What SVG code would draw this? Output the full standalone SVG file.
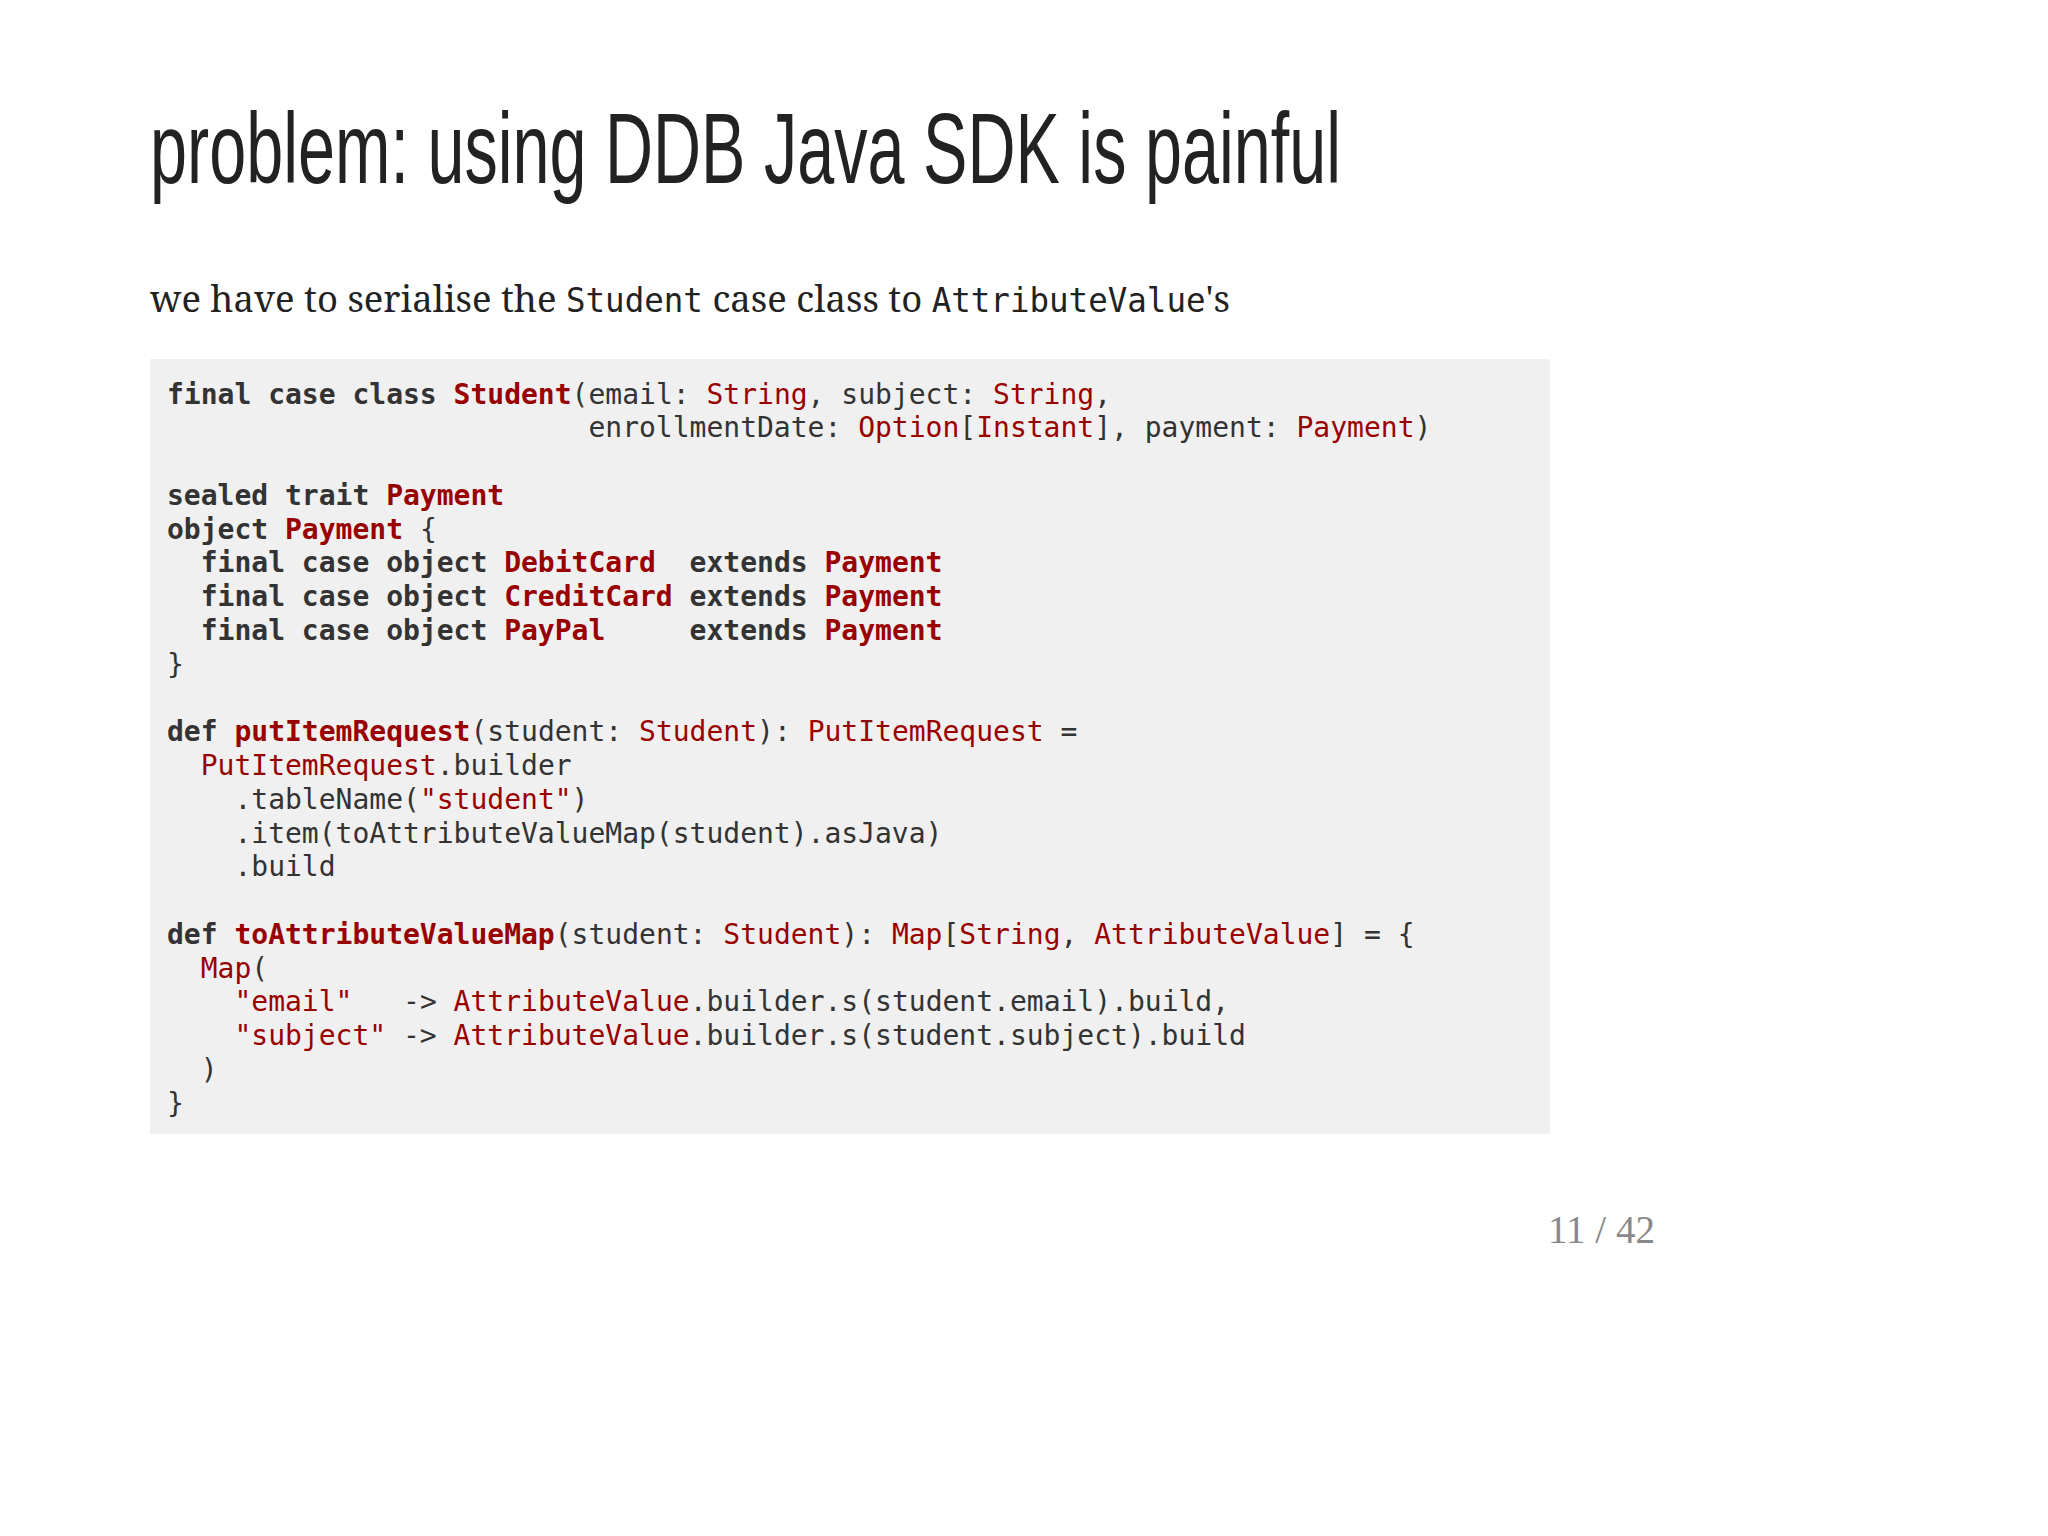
<svg xmlns="http://www.w3.org/2000/svg" width="2048" height="1536" viewBox="0 0 2048 1536">
<style>
.c text{font-family:"DejaVu Sans Mono","Liberation Mono",monospace;font-size:28px;fill:#333;white-space:pre}
.k{font-weight:bold;fill:#333}
.t{fill:#990000}
.n{font-weight:bold;fill:#990000}
.m{font-family:"DejaVu Sans Mono","Liberation Mono",monospace;font-size:33px}
</style>
<rect width="2048" height="1536" fill="#ffffff"/>
<text x="150" y="183" font-family="'Liberation Sans',sans-serif" font-size="100" fill="#222" textLength="1191" lengthAdjust="spacingAndGlyphs">problem: using DDB Java SDK is painful</text>
<text x="150" y="312" font-family="'Noto Serif','Liberation Serif',serif" font-size="37" fill="#222" textLength="1080" lengthAdjust="spacingAndGlyphs">we have to serialise the <tspan class="m">Student</tspan> case class to <tspan class="m">AttributeValue</tspan>'s</text>
<rect x="150" y="359" width="1400" height="775" fill="#f0f0f0"/>
<g class="c">
<text xml:space="preserve" x="167" y="403.5"><tspan class="k">final case class</tspan> <tspan class="n">Student</tspan>(email: <tspan class="t">String</tspan>, subject: <tspan class="t">String</tspan>,</text>
<text xml:space="preserve" x="167" y="437.3">                         enrollmentDate: <tspan class="t">Option</tspan>[<tspan class="t">Instant</tspan>], payment: <tspan class="t">Payment</tspan>)</text>
<text xml:space="preserve" x="167" y="504.8"><tspan class="k">sealed trait</tspan> <tspan class="n">Payment</tspan></text>
<text xml:space="preserve" x="167" y="538.6"><tspan class="k">object</tspan> <tspan class="n">Payment</tspan> {</text>
<text xml:space="preserve" x="167" y="572.4">  <tspan class="k">final case object</tspan> <tspan class="n">DebitCard</tspan>  <tspan class="k">extends</tspan> <tspan class="n">Payment</tspan></text>
<text xml:space="preserve" x="167" y="606.1">  <tspan class="k">final case object</tspan> <tspan class="n">CreditCard</tspan> <tspan class="k">extends</tspan> <tspan class="n">Payment</tspan></text>
<text xml:space="preserve" x="167" y="639.9">  <tspan class="k">final case object</tspan> <tspan class="n">PayPal</tspan>     <tspan class="k">extends</tspan> <tspan class="n">Payment</tspan></text>
<text xml:space="preserve" x="167" y="673.7">}</text>
<text xml:space="preserve" x="167" y="741.2"><tspan class="k">def</tspan> <tspan class="n">putItemRequest</tspan>(student: <tspan class="t">Student</tspan>): <tspan class="t">PutItemRequest</tspan> =</text>
<text xml:space="preserve" x="167" y="775.0">  <tspan class="t">PutItemRequest</tspan>.builder</text>
<text xml:space="preserve" x="167" y="808.8">    .tableName(<tspan class="t">"student"</tspan>)</text>
<text xml:space="preserve" x="167" y="842.5">    .item(toAttributeValueMap(student).asJava)</text>
<text xml:space="preserve" x="167" y="876.3">    .build</text>
<text xml:space="preserve" x="167" y="943.8"><tspan class="k">def</tspan> <tspan class="n">toAttributeValueMap</tspan>(student: <tspan class="t">Student</tspan>): <tspan class="t">Map</tspan>[<tspan class="t">String</tspan>, <tspan class="t">AttributeValue</tspan>] = {</text>
<text xml:space="preserve" x="167" y="977.6">  <tspan class="t">Map</tspan>(</text>
<text xml:space="preserve" x="167" y="1011.4">    <tspan class="t">"email"</tspan>   -&gt; <tspan class="t">AttributeValue</tspan>.builder.s(student.email).build,</text>
<text xml:space="preserve" x="167" y="1045.1">    <tspan class="t">"subject"</tspan> -&gt; <tspan class="t">AttributeValue</tspan>.builder.s(student.subject).build</text>
<text xml:space="preserve" x="167" y="1078.9">  )</text>
<text xml:space="preserve" x="167" y="1112.7">}</text>
</g>
<text x="1548" y="1243" font-family="'Liberation Serif',serif" font-size="39" fill="#888">11 / 42</text>
</svg>
